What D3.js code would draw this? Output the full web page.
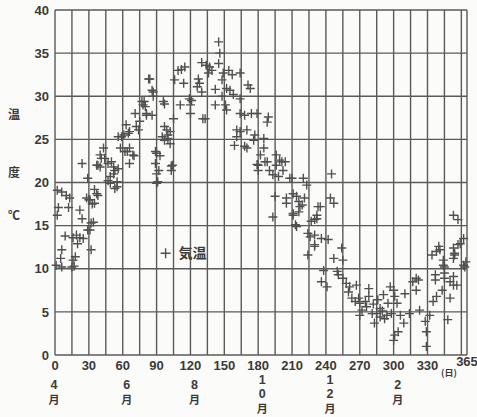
<!DOCTYPE html>
<html>
<head>
<meta charset="utf-8">
<script src="https://cdn.jsdelivr.net/npm/d3@7"></script>
<style>
  body { margin: 0; background: #fbfbf9; }
  svg { display: block; }
  text { font-family: "Liberation Sans", "Noto Sans CJK JP", sans-serif; fill: #3a3a3a; }
  .jp { font-family: "Noto Sans CJK JP", sans-serif; }
</style>
</head>
<body>
<svg id="chart"></svg>
<script>
var width = 477;
var height = 417;

// [day from 1 April, temperature °C]
var observations = [
  [2,19.1],[6,18.9],[10,18.5],[13,18.2],[3,17.1],[2,16.2],[12,17.1],[9,13.8],[16,13.6],[19,13.9],
  [22,13.6],[25,13.5],[20,12.9],[6,12.2],[5,11.2],[18,11.4],[16,11],[6,10.2],[15,10.2],[17,10.3],
  [1,10.4],[22,16.8],[24,15.8],[24,22.2],[29,20.5],[28,18.2],[30,18],[31,18],[33,17.5],[35,17.6],
  [37,18.7],[35,19.2],[34,15.4],[31,14.5],[32,12.2],[38,18.5],[32,15.3],[29,14.5],
  [43,24],[40,23.2],[41,22.8],[37,22],[40,21.8],[44,22.8],[38,22],[47,22.2],[50,22.4],[52,21.8],
  [56,21.6],[53,21.4],[52,21],[49,20.7],[47,20.2],[49,19.9],[55,20.1],[53,19.3],[55,19.5],[59,25.3],
  [65,25.7],[58,24],[62,23.6],[64,23.6],[66,24],[69,23.2],[70,23.1],[66,22.2],[56,25.3],[61,25.5],
  [63,26.7],[66,25.9],
  [71,28],[72,26.5],[74,26.1],[75,27.1],[77,29.4],[78,29],[80,28.8],[81,27.8],[86,27.8],[83,32],
  [86,30.7],[87,30],[84,32],[87,30.5],[79,29.4],[81,28],[89,23.6],[93,23.1],[89,22.2],[92,21.4],
  [90,21],[90,19.9],[91,20.1],[90,23.4],[103,21.9],[103,21.4],[104,22],[100,25.5],[97,24.9],[102,24.5],
  [96,29.4],[97,29.1],[97,26.5],[99,26.1],[102,25.9],[100,25.1],[95,25.3],[105,27.4],
  [106,31.9],[109,33],[112,33.1],[115,33.4],[114,31.5],[111,29],[119,29.7],[121,29.5],[120,29],[120,28],
  [127,32],[128,31.5],[126,31.1],[130,30.5],[130,33.9],[134,33.6],[137,33.4],[139,33],[136,32.7],[145,33.8],
  [145,36.3],[146,35],[133,27.4],[131,27.4],[142,30.8],[148,31.9],[149,32.7],[154,33],[157,32.5],[164,32.7],
  [152,30.9],[155,30.7],[148,30],[142,29],[151,29],[152,28.4],[158,30.2],[164,29.7],[171,31.3],[173,30.9],
  [164,28],[168,27.8],[174,28],[179,28],[189,27.6],[188,27],[161,26.1],[164,25.9],[170,26.1],[161,25.3],
  [177,25.5],[176,24.9],[185,25.1],[159,24.3],[170,24],[185,24],[182,23.2],[186,22.4],[180,22],[196,23.2],
  [199,22.6],[204,22.4],[196,22],
  [168,24.2],[179,22.1],[180,21.4],[188,22.4],[190,21.4],[193,20.9],[198,20.7],[201,22.4],[202,21.4],[210,20.5],
  [195,18.4],[193,16],[205,18.2],[205,17.6],[211,18.7],[214,18.4],[216,17.8],[217,17.2],[221,18.2],[211,16.2],
  [214,14.9],[208,20.5],[220,20.5],[223,19.7],[211,16.4],[216,16.6],[219,17.4],[213,15.1],
  [224,14.1],[226,13.7],[230,12.8],[224,11.6],[227,15.5],[232,15.8],[233,17.2],[232,16.2],[230,15.7],[230,13.9],
  [236,13.5],[242,13.4],[230,12.6],[245,21],[244,18.2],[247,17.6],[235,17.2],[254,12.4],[247,11.2],[255,11],
  [238,9.8],[250,9.7],[251,9.3],[236,8.5],[241,7.9],[255,8.9],[258,8.3],[261,7.9],[267,8.1],[260,7.3],
  [263,6.6],[266,6.2],
  [270,6],[275,6.2],[272,5.2],[278,7.7],[278,6.8],[270,4.6],[281,4.8],[283,3.7],[285,4.8],[288,5.4],
  [291,7],[295,6],[297,7.9],[300,7.5],[301,6.8],[303,6],[288,4.4],[294,4.6],[292,4.2],[298,4.8],
  [306,4.6],[309,3.7],[310,7.1],[314,4.8],[317,8.5],[320,7.5],[322,8.7],[323,5.2],[328,3.9],[329,2.7],
  [332,4.6],[335,6.2],[338,6.8],[343,7.5],[337,8.7],[345,8.9],[350,8.5],[350,6.6],[353,8.1],[348,4.1],
  [301,2.3],[304,2.7],[300,1.7],[329,1],[320,8.9],[269,6.6],[276,5.6],[282,5.9],[286,6.4],[290,5.1],
  [334,11.6],[340,12.6],[341,12.2],[344,11],[345,10.2],[353,12.4],[354,11.6],[357,12.8],[362,13.5],[362,10.4],
  [353,16.2],[357,15.7],[359,12.9],[338,12],[354,11.8],[353,11.2],[363,10.2],[344,10.4],[337,9.3],[345,9.5],
  [353,9.1],[356,8.1],[364,10.8]
];

var yTicks = [0, 5, 10, 15, 20, 25, 30, 35, 40];
var xTicks = [0, 30, 60, 90, 120, 150, 180, 210, 240, 270, 300, 330];
var xGrid = d3.range(0, 361, 15);
var months = [
  { day: 0, label: ["4", "月"] },
  { day: 60, label: ["6", "月"] },
  { day: 120, label: ["8", "月"] },
  { day: 180, label: ["1", "0", "月"] },
  { day: 240, label: ["1", "2", "月"] },
  { day: 300, label: ["2", "月"] }
];
var yTitle = ["温", "度", "℃"];

var margin = { top: 10, right: 10, bottom: 62, left: 55 };

var svg = d3.select('#chart')
    .attr('width', width)
    .attr('height', height);

var x = d3.scaleLinear()
    .domain([0, 365])
    .range([margin.left, width - margin.right]);
var y = d3.scaleLinear()
    .domain([0, 40])
    .range([height - margin.bottom, margin.top]);

var lineColor = '#5a5a5a';

// grid
svg.append('g').selectAll('line.h')
    .data(yTicks).enter()
    .append('line')
    .attr('x1', x(0)).attr('x2', x(365))
    .attr('y1', d => y(d)).attr('y2', d => y(d))
    .attr('stroke', lineColor).attr('stroke-width', 1.4);
svg.append('g').selectAll('line.v')
    .data(xGrid.concat([365])).enter()
    .append('line')
    .attr('x1', d => x(d)).attr('x2', d => x(d))
    .attr('y1', y(0)).attr('y2', y(40))
    .attr('stroke', lineColor).attr('stroke-width', 1.4);

// y tick labels
svg.append('g').selectAll('text')
    .data(yTicks).enter()
    .append('text')
    .attr('x', x(0) - 6)
    .attr('y', d => y(d))
    .attr('dy', '0.36em')
    .attr('text-anchor', 'end')
    .style('font-size', '13px')
    .style('font-weight', 'bold')
    .text(d => d);

// x tick labels
svg.append('g').selectAll('text')
    .data(xTicks).enter()
    .append('text')
    .attr('x', d => x(d))
    .attr('y', y(0) + 10)
    .attr('dy', '0.36em')
    .attr('text-anchor', 'middle')
    .style('font-size', '13px')
    .style('font-weight', 'bold')
    .text(d => d);
svg.append('text')
    .attr('x', x(365))
    .attr('y', y(0) + 6)
    .attr('dy', '0.36em')
    .attr('text-anchor', 'middle')
    .style('font-size', '13px')
    .style('font-weight', 'bold')
    .text('365');
svg.append('text')
    .attr('class', 'jp')
    .attr('x', x(349))
    .attr('y', y(0) + 18)
    .attr('dy', '0.36em')
    .attr('text-anchor', 'middle')
    .style('font-size', '9px')
    .style('font-weight', 'bold')
    .text('(日)');

// month labels, stacked vertically
months.forEach(function(m) {
    var tall = m.label.length > 2;
    var centers = tall ? [24, 38.5, 54.5] : [29, 45];
    svg.append('g').selectAll('text')
        .data(m.label).enter()
        .append('text')
        .attr('class', d => d === '月' ? 'jp' : null)
        .attr('x', x(m.day) + (m.day > 0 ? 4 : -1))
        .attr('y', (d, i) => y(0) + centers[i])
        .attr('dy', '0.36em')
        .attr('text-anchor', 'middle')
        .style('font-size', d => d === '月' ? '11px' : '12.5px')
        .style('font-weight', 'bold')
        .text(d => d);
});

// y title
svg.append('g').selectAll('text')
    .data(yTitle).enter()
    .append('text')
    .attr('class', 'jp')
    .attr('x', 14)
    .attr('y', (d, i) => [115, 173, 216][i])
    .attr('dy', '0.36em')
    .attr('text-anchor', 'middle')
    .style('font-size', '12px')
    .style('font-weight', 'bold')
    .text(d => d);

// plus markers
var s = 4.5;
var marks = svg.append('g')
    .attr('stroke', '#505050')
    .attr('stroke-width', 1.4)
    .attr('fill', 'none');
marks.selectAll('path')
    .data(observations).enter()
    .append('path')
    .attr('d', d => {
        var px = x(d[0]), py = y(d[1]);
        return 'M' + (px - s) + ',' + py + 'H' + (px + s) + 'M' + px + ',' + (py - s) + 'V' + (py + s);
    });

// legend
var legend = svg.append('g')
    .attr('transform', 'translate(' + x(98) + ',' + y(11.8) + ')');
legend.append('path')
    .attr('d', 'M-5,0H5M0,-5V5')
    .attr('stroke', '#505050')
    .attr('stroke-width', 1.4);
legend.append('text')
    .attr('class', 'jp')
    .attr('x', 13)
    .attr('dy', '0.36em')
    .style('font-size', '14px')
    .style('font-weight', 'bold')
    .text('気温');
</script>
</body>
</html>
